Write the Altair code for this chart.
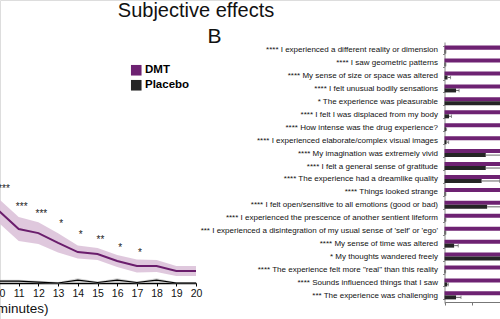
import altair as alt
import pandas as pd

# ---------------- Panel A (time course) ----------------
minutes = [10, 11, 12, 13, 14, 15, 16, 17, 18, 19, 20]
dmt_mean = [3.0, 2.25, 2.08, 1.67, 1.29, 1.21, 0.92, 0.71, 0.71, 0.5, 0.5]
dmt_sem = [0.5, 0.5, 0.45, 0.4, 0.27, 0.25, 0.25, 0.27, 0.25, 0.21, 0.21]
pbo_mean = [0.08, 0.08, 0.04, 0.0, 0.12, 0.02, 0.12, 0.02, 0.12, 0.0, 0.0]
pbo_sem = [0.06, 0.06, 0.05, 0.04, 0.08, 0.04, 0.08, 0.04, 0.08, 0.03, 0.03]

sig_minutes = [10, 11, 12, 13, 14, 15, 16, 17]
sig_labels = ["****", "***", "***", "*", "*", "**", "*", "*"]
sig_heights = [4.0, 3.25, 2.96, 2.54, 2.08, 1.875, 1.54, 1.33]

# ---------------- Panel B (item ratings) ----------------
items = [
    "**** I experienced a different reality or dimension",
    "**** I saw geometric patterns",
    "**** My sense of size or space was altered",
    "**** I felt unusual bodily sensations",
    "* The experience was pleasurable",
    "**** I felt I was displaced from my body",
    "**** How intense was the drug experience?",
    "**** I experienced elaborate/complex visual images",
    "**** My imagination was extremely vivid",
    "**** I felt a general sense of gratitude",
    "**** The experience had a dreamlike quality",
    "**** Things looked strange",
    "**** I felt open/sensitive to all emotions (good or bad)",
    "**** I experienced the prescence of another sentient lifeform",
    "*** I experienced a disintegration of my usual sense of 'self' or 'ego'",
    "**** My sense of time was altered",
    "* My thoughts wandered freely",
    "**** The experience felt more \"real\" than this reality",
    "**** Sounds influenced things that I saw",
    "*** The experience was challenging",
]
dmt_scores = [85, 80, 78, 75, 82, 70, 80, 83, 85, 84, 80, 72, 84, 70, 65, 75, 68, 60, 55, 45]
pbo_scores = [0.7, 0.7, 2.2, 8.4, 55, 3.3, 1.0, 1.5, 30, 30, 27, 0.7, 31, 0.7, 0.7, 7, 55, 0.5, 2.0, 8.4]
pbo_errors = [0.3, 0.3, 2.2, 2.2, 8, 1.8, 0.5, 1.5, 20, 20, 13, 0.3, 20, 0.3, 0.3, 3, 8, 0.3, 0.8, 3.6]

groups = ["DMT", "Placebo"]
PURPLE = "#6e2272"
DARK = "#252525"
FONT = "Liberation Sans"

# ---- tables ----
ts = pd.DataFrame({
    "minute": minutes * 2,
    "group": ["DMT"] * len(minutes) + ["Placebo"] * len(minutes),
    "mean": dmt_mean + pbo_mean,
})
ts["lo"] = [m - s for m, s in zip(dmt_mean + pbo_mean, dmt_sem + pbo_sem)]
ts["hi"] = [m + s for m, s in zip(dmt_mean + pbo_mean, dmt_sem + pbo_sem)]

sig = pd.DataFrame({"minute": sig_minutes, "label": sig_labels, "h": sig_heights})

bars = pd.DataFrame({
    "item": items * 2,
    "group": ["DMT"] * len(items) + ["Placebo"] * len(items),
    "score": dmt_scores + pbo_scores,
})
errs = pd.DataFrame({
    "item": items,
    "group": ["Placebo"] * len(items),
    "lo": pbo_scores,
    "hi": [s + e for s, e in zip(pbo_scores, pbo_errors)],
})

# ---- panel A layers ----
xA = alt.X(
    "minute:Q",
    scale=alt.Scale(domain=[10, 20], range=[-1, 196]),
    axis=alt.Axis(
        orient="bottom", offset=-36, values=minutes, grid=False,
        tickSize=3, tickColor="black", domainColor="black", domainWidth=1.6,
        labelPadding=2, labelFontSize=10.5, labelFont=FONT, labelColor="#111",
        labelFlush=False, labelOverlap=False, labelBound=False,
        title="Time (minutes)", titleX=48, titleY=29, titleAlign="right",
        titleBaseline="alphabetic", titleFontSize=13.5, titleFontWeight="normal",
        titleFont=FONT, titleColor="#111",
    ),
)
yscaleA = alt.Scale(domain=[0, 10], range=[283, 43])

baseA = alt.Chart(ts)
dmt_band = baseA.transform_filter(alt.datum.group == "DMT").mark_area(
    color="#dcc2d9", opacity=0.9
).encode(x=xA, y=alt.Y("lo:Q", scale=yscaleA, axis=None), y2="hi:Q")
pbo_band = baseA.transform_filter(alt.datum.group == "Placebo").mark_area(
    color="#b5b5b5", opacity=0.6
).encode(x=xA, y=alt.Y("lo:Q", scale=yscaleA, axis=None), y2="hi:Q")
dmt_line = baseA.transform_filter(alt.datum.group == "DMT").mark_line(
    color="#6a1d6c", strokeWidth=2
).encode(x=xA, y=alt.Y("mean:Q", scale=yscaleA, axis=None))
pbo_line = baseA.transform_filter(alt.datum.group == "Placebo").mark_line(
    color="black", strokeWidth=1.2
).encode(x=xA, y=alt.Y("mean:Q", scale=yscaleA, axis=None))
sig_text = alt.Chart(sig).mark_text(
    fontSize=10, font=FONT, color="#222", dx=3, dy=2, baseline="middle"
).encode(x=xA, y=alt.Y("h:Q", scale=yscaleA, axis=None), text="label:N")

panelA = alt.layer(pbo_band, dmt_band, pbo_line, dmt_line, sig_text)

# ---- panel B layers ----
xB_scale = alt.Scale(domain=[0, 100], range=[444.5, 582])
xB_axis = alt.Axis(
    orient="bottom", offset=-17, values=[0, 20, 40, 60, 80, 100], labels=False,
    tickSize=3, tickColor="#777", domainColor="#777", domainWidth=1,
    grid=False, title=None,
)
yB = alt.Y(
    "item:N", sort=items,
    scale=alt.Scale(domain=items, range=[42, 303], paddingInner=0.38, paddingOuter=0.28),
    axis=alt.Axis(
        orient="left", offset=-444.5, title=None, grid=False,
        labelFontSize=8, labelFont=FONT, labelColor="#111", labelLimit=400,
        labelPadding=5, tickSize=2, tickColor="#888", domainColor="#888",
        tickBand="extent",
    ),
)
yOff = alt.YOffset("group:N", scale=alt.Scale(domain=groups, paddingInner=0, paddingOuter=0))

bar_layer = alt.Chart(bars).mark_bar().encode(
    x=alt.X("score:Q", scale=xB_scale, axis=xB_axis),
    y=yB,
    yOffset=yOff,
    color=alt.Color(
        "group:N",
        scale=alt.Scale(domain=groups, range=[PURPLE, DARK]),
        legend=alt.Legend(
            orient="none", legendX=130.5, legendY=64.5, title=None,
            symbolType="square", symbolSize=112, symbolStrokeWidth=0,
            labelFontSize=11.5, labelFont=FONT, labelFontWeight="bold",
            labelColor="black", labelOffset=3, rowPadding=2, padding=0,
        ),
    ),
)
err_rule = alt.Chart(errs).mark_rule(color="#666", strokeWidth=1).encode(
    x=alt.X("lo:Q", scale=xB_scale, axis=xB_axis), x2="hi:Q", y=yB, yOffset=yOff
)
err_cap = alt.Chart(errs).mark_tick(color="#666", thickness=1, size=3.5).encode(
    x=alt.X("hi:Q", scale=xB_scale, axis=xB_axis), y=yB, yOffset=yOff
)
panelB = alt.layer(bar_layer, err_rule, err_cap)

# ---- figure headings ----
heads = pd.DataFrame({"t": ["Subjective effects"]})
panel_tag = pd.DataFrame({"t": ["B"]})
head_text = alt.Chart(heads).mark_text(
    fontSize=20, font=FONT, color="#111", align="center", baseline="alphabetic"
).encode(text="t:N", x=alt.value(196), y=alt.value(17))
tag_text = alt.Chart(panel_tag).mark_text(
    fontSize=21, font=FONT, color="#111", align="center", baseline="alphabetic"
).encode(text="t:N", x=alt.value(214.5), y=alt.value(43))

chart = alt.layer(panelA, panelB, head_text, tag_text).resolve_scale(
    x="independent", y="independent"
).properties(
    width=500, height=319,
    autosize=alt.AutoSizeParams(type="none"),
    padding=0,
).configure_view(stroke=None).configure(background="white")

chart.save("out.html", embed_options={"renderer": "svg", "actions": False})
